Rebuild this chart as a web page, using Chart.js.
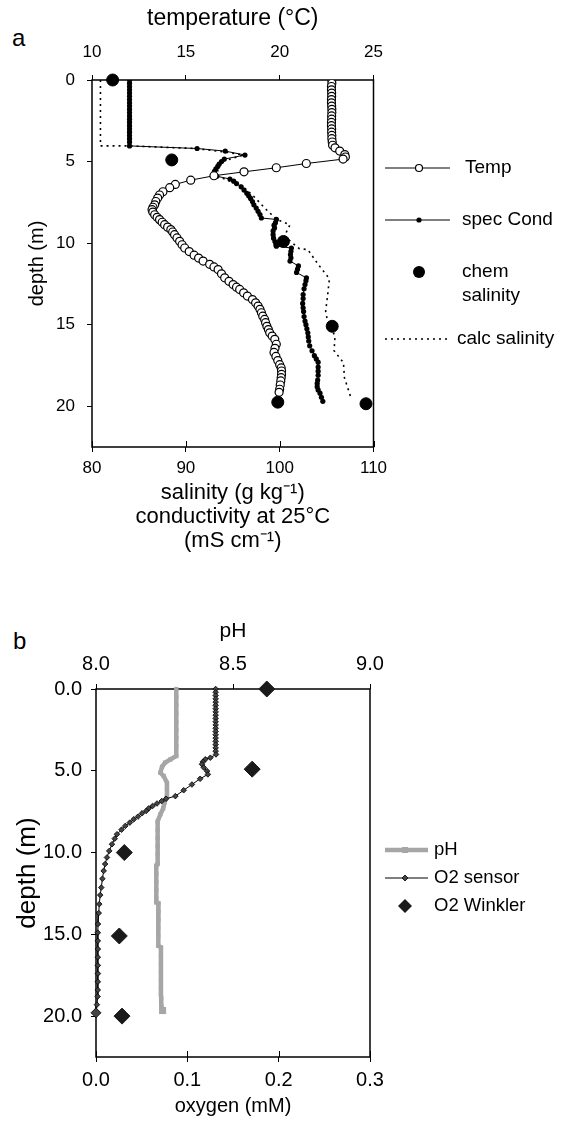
<!DOCTYPE html>
<html><head><meta charset="utf-8">
<script src="https://cdn.jsdelivr.net/npm/chart.js@4/dist/chart.umd.min.js"></script>
<style>
html,body{margin:0;padding:0;background:#fff;}
body{width:562px;height:1128px;position:relative;overflow:hidden;font-family:"Liberation Sans",Arial,sans-serif;color:#000;}
canvas{position:absolute;left:0;}
#ca{top:0;}
#cb{top:585px;}
.lbl{position:absolute;font-size:24px;line-height:24px;}
</style></head><body>
<div class="lbl" style="left:12px;top:26px">a</div>
<div class="lbl" style="left:13px;top:629px">b</div>
<canvas id="ca" width="562" height="560"></canvas>
<canvas id="cb" width="562" height="543"></canvas>
<script>
// ---------- Panel a data ----------
const tempDepth = [0,0.2,0.4,0.6,0.8,1.0,1.2,1.4,1.6,1.8,2.0,2.2,2.4,2.6,2.8,3.0,3.2,3.4,3.6,3.8,4.0,
  4.16,4.36,4.57,4.72,4.85,5.12,5.38,5.63,5.87,6.14,
  6.4,6.6,6.85,7.05,7.24,7.45,7.65,7.8,7.95,8.1,
  8.26,8.42,8.56,8.72,8.87,9.02,9.17,9.32,9.48,9.68,
  9.89,10.1,10.3,10.52,10.74,10.92,11.1,11.3,11.46,11.62,
  11.88,12.13,12.34,12.54,12.7,12.84,13.05,13.25,13.46,13.66,
  13.86,14.06,14.27,14.48,14.68,14.88,15.1,15.3,15.5,15.7,
  15.9,16.2,16.45,16.7,16.95,17.2,17.45,17.65,17.84,18.05,
  18.25,18.45,18.7,18.96,19.15];
const tempValue = [22.78,22.78,22.76,22.76,22.77,22.77,22.76,22.76,22.77,22.78,22.78,22.77,22.77,22.76,22.76,22.77,22.77,22.78,22.78,22.8,22.82,
  22.95,23.2,23.47,23.5,23.38,21.42,19.82,18.1,16.5,15.26,
  14.44,14.14,13.78,13.6,13.5,13.4,13.34,13.25,13.2,13.24,
  13.34,13.47,13.6,13.74,13.87,14.03,14.2,14.3,14.4,14.53,
  14.67,14.8,14.94,15.18,15.44,15.68,15.92,16.27,16.5,16.72,
  16.9,17.07,17.3,17.52,17.7,17.87,18.08,18.28,18.55,18.72,
  18.85,18.95,19.03,19.1,19.2,19.25,19.32,19.4,19.47,19.6,
  19.74,19.82,19.75,19.7,19.8,19.9,20.0,20.08,20.1,20.1,
  20.08,20.06,20.03,20.0,19.97];

const condDepth = [0,0.2,0.4,0.6,0.8,1.0,1.2,1.4,1.6,1.8,2.0,2.2,2.4,2.6,2.8,3.0,3.2,3.4,3.6,3.8,4.04,
  4.2,4.36,4.6,4.85,5.0,5.15,5.3,5.45,5.6,5.75,
  5.9,6.07,6.2,6.35,6.55,6.75,6.95,7.1,7.26,7.45,
  7.65,7.85,8.05,8.25,8.46,8.55,8.75,8.9,9.07,9.25,
  9.48,9.7,9.9,10.1,10.19,10.3,10.5,10.7,10.9,11.1,
  11.4,11.6,11.8,12.13,12.3,12.54,12.8,13.15,13.4,13.7,
  13.97,14.2,14.5,14.78,15.0,15.25,15.5,15.75,16.0,16.3,
  16.6,16.9,17.1,17.3,17.6,17.85,18.1,18.4,18.6,18.8,
  19.0,19.2,19.45,19.7];
const condValue = [84.0,84.0,84.0,84.0,84.0,84.0,84.0,84.0,84.0,84.0,84.0,84.0,84.0,84.0,84.0,84.0,84.0,84.0,84.0,84.0,84.0,
  91.2,94.2,96.3,94.1,93.8,93.55,93.4,93.2,93.05,92.95,
  93.3,94.7,95.1,95.4,95.9,96.2,96.5,96.7,96.9,97.1,
  97.25,97.5,97.7,97.9,98.05,99.65,99.55,99.4,99.45,99.3,
  99.3,99.35,99.5,99.6,99.65,101.25,101.2,101.15,101.2,101.1,
  102.0,101.9,101.8,102.85,102.8,102.7,102.6,102.5,102.5,102.45,
  102.5,102.55,102.6,102.7,102.8,102.9,103.0,103.05,103.1,103.2,
  103.45,103.7,103.9,104.1,104.1,104.1,104.1,104.05,104.0,104.0,
  104.1,104.3,104.45,104.6];

const chemDepth = [0, 4.9, 9.9, 15.1, 19.75, 19.85];
const chemSalinity = [82.2, 88.5, 100.4, 105.6, 99.8, 109.2];

const calcDepth = [0,4.04,4.04,4.2,4.4,4.6,5.0,5.5,5.9,6.5,7.0,7.35,7.85,8.56,8.87,9.58,10.34,10.4,11.3,12.19,13.25,14.17,14.78,15.7,16.6,17.33,18.25,19.57];
const calcSalinity = [80.9,80.9,84.0,91.0,94.0,96.1,93.9,93.4,93.4,96.0,97.0,97.6,98.4,99.7,101.1,100.5,102.1,103.0,104.1,105.3,105.1,104.9,105.1,105.9,105.8,106.8,106.9,107.65];

const depthTicksA = [0,5,10,15,20];
const tempTicks = [10,15,20,25];
const salTicks = [80,90,100,110];

// ---------- Panel b data ----------
const phDepth = [0,0.5,1.0,1.5,2.0,2.5,3.0,3.5,
  4.1,4.31,4.5,4.76,5.12,5.32,5.73,6.1,6.55,6.95,
  7.3,7.66,8.1,8.6,9.1,9.6,10.1,10.7,10.8,11.3,
  11.8,12.3,12.8,13.05,13.1,13.6,14.1,14.6,15.1,15.7,
  15.8,16.3,16.8,17.3,17.8,18.3,18.7,18.9,19.3,19.66];
const phValue = [8.293,8.293,8.293,8.293,8.293,8.293,8.293,8.293,
  8.293,8.271,8.252,8.241,8.235,8.247,8.259,8.259,8.259,8.25,
  8.245,8.235,8.225,8.225,8.225,8.225,8.225,8.225,8.22,8.22,
  8.22,8.22,8.22,8.22,8.228,8.228,8.228,8.227,8.227,8.227,
  8.237,8.237,8.237,8.237,8.237,8.237,8.237,8.238,8.238,8.243];

const o2Depth = [0,0.2,0.4,0.6,0.8,1.0,1.2,1.4,1.6,1.8,2.0,2.2,2.4,2.6,2.8,3.0,3.2,3.4,3.6,3.8,4.0,
  4.2,4.3,4.45,4.6,4.8,5.02,5.22,5.49,5.84,6.19,
  6.55,6.71,6.85,7.0,7.15,7.3,7.45,7.6,7.8,7.97,
  8.17,8.37,8.6,8.88,9.15,9.49,9.9,10.3,10.7,11.12,
  11.6,12.14,12.6,13.15,13.7,14.37,14.9,15.4,15.9,16.4,
  16.9,17.4,17.9,18.4,18.8,19.3,19.8];
const o2Sensor = [0.131,0.131,0.131,0.131,0.131,0.131,0.131,0.131,0.131,0.131,0.131,0.131,0.131,0.131,0.131,0.131,0.131,0.131,0.131,0.131,0.1314,
  0.1252,0.1197,0.117,0.116,0.118,0.1216,0.1225,0.114,0.105,0.096,
  0.0869,0.0767,0.072,0.0668,0.062,0.0577,0.055,0.0504,0.046,0.0413,
  0.037,0.0321,0.028,0.023,0.0205,0.0175,0.0145,0.012,0.01,0.0084,
  0.007,0.0058,0.0046,0.0036,0.003,0.0022,0.002,0.002,0.0021,0.002,
  0.002,0.0021,0.002,0.002,0.0018,0.001,0.0];

const winklerDepth = [0, 4.9, 10.0, 15.1, 20.0];
const winklerO2 = [0.187, 0.171, 0.031, 0.0255, 0.0285];

const depthTicksB = [0,5,10,15,20];
const phTicks = [8.0,8.5,9.0];
const oxyTicks = [0,0.1,0.2,0.3];

// ---------- helpers ----------
const FONT = "'Liberation Sans', Arial, sans-serif";
Chart.defaults.font.family = FONT;
Chart.defaults.color = '#000';

function pts(xs, ys) { const n = Math.min(xs.length, ys.length); const o = []; for (let i = 0; i < n; i++) o.push({x: xs[i], y: ys[i]}); return o; }

function axis(o) {
  const a = {
    type: 'linear', position: o.position, min: o.min, max: o.max, reverse: !!o.reverse,
    afterBuildTicks: s => { s.ticks = o.ticks.map(v => ({value: v})); },
    ticks: { font: {size: o.tickSize}, color: '#000', padding: o.tickPad, callback: o.fmt },
    grid: { display: true, drawOnChartArea: false, drawTicks: true, tickLength: 5, color: '#000', lineWidth: 1 },
    border: { display: false },
    title: { display: true, text: o.title, color: '#000', font: {size: o.titleSize, lineHeight: o.titleLH || 1.2}, padding: o.titlePad },
    afterFit: s => { if (o.position === 'left') s.width = o.fit; else s.height = o.fit; }
  };
  if (o.axisId) a.axis = o.axisId;
  return a;
}

const boxPlugin = {
  id: 'box',
  beforeDatasetsDraw(chart) {
    const {ctx, chartArea: c} = chart;
    ctx.save(); ctx.strokeStyle = '#000'; ctx.lineWidth = 1.5;
    ctx.strokeRect(c.left, c.top, c.right - c.left, c.bottom - c.top);
    // inner tick marks on the bottom axis (the reference's ticks cross the axis line)
    const sx = chart.scales.x; ctx.lineWidth = 1;
    sx.ticks.forEach(t => {
      const px = Math.round(sx.getPixelForValue(t.value)) + 0.5;
      ctx.beginPath(); ctx.moveTo(px, c.bottom); ctx.lineTo(px, c.bottom - 6); ctx.stroke();
    });
    ctx.restore();
  }
};

function legendPlugin(items) {
  return {
    id: 'customLegend',
    afterDraw(chart) {
      const ctx = chart.ctx;
      ctx.save();
      items.forEach(it => it(ctx));
      ctx.restore();
    }
  };
}
function txt(ctx, s, x, y, size) {
  ctx.fillStyle = '#000'; ctx.font = size + 'px ' + FONT; ctx.textBaseline = 'middle'; ctx.textAlign = 'left';
  ctx.fillText(s, x, y);
}
function hline(ctx, x1, x2, y, w, col, dash) {
  ctx.beginPath(); ctx.setLineDash(dash || []); ctx.strokeStyle = col; ctx.lineWidth = w;
  ctx.moveTo(x1, y); ctx.lineTo(x2, y); ctx.stroke(); ctx.setLineDash([]);
}

// ---------- Panel a ----------
new Chart(document.getElementById('ca'), {
  type: 'scatter',
  data: { datasets: [
    { label: 'chem salinity', data: pts(chemSalinity, chemDepth), xAxisID: 'x', yAxisID: 'y',
      pointRadius: 6, pointBackgroundColor: '#000', pointBorderColor: '#000', showLine: false, clip: false },
    { label: 'Temp', data: pts(tempValue, tempDepth), xAxisID: 'x2', yAxisID: 'y', showLine: true,
      borderColor: '#000', borderWidth: 1, pointRadius: 4, pointBackgroundColor: '#fff', pointBorderColor: '#000', pointBorderWidth: 1.2, tension: 0 },
    { label: 'spec Cond', data: pts(condValue, condDepth), xAxisID: 'x', yAxisID: 'y', showLine: true,
      borderColor: '#000', borderWidth: 1, pointRadius: 2.6, pointBackgroundColor: '#000', pointBorderColor: '#000', pointBorderWidth: 0, tension: 0 },
    { label: 'calc salinity', data: pts(calcSalinity, calcDepth), xAxisID: 'x', yAxisID: 'y', showLine: true,
      borderColor: '#000', borderWidth: 1.6, borderDash: [2, 4], pointRadius: 0, tension: 0 }
  ]},
  options: {
    responsive: false, animation: false, devicePixelRatio: 1,
    layout: { padding: { left: 0, top: 0, bottom: 0, right: 188.5 } },
    plugins: { legend: { display: false }, tooltip: { enabled: false } },
    scales: {
      x: axis({position: 'bottom', min: 80, max: 110, ticks: salTicks, tickSize: 17, tickPad: 6,
        title: ['salinity (g kg\u207B\u00B9)', 'conductivity at 25\u00B0C', '(mS cm\u207B\u00B9)'], titleSize: 22, titleLH: 1.1,
        titlePad: {top: 0, bottom: 7}, fit: 113}),
      x2: axis({position: 'top', axisId: 'x', min: 10, max: 25, ticks: tempTicks, tickSize: 17, tickPad: 12,
        title: 'temperature (\u00B0C)', titleSize: 23, titlePad: {top: 5, bottom: 0}, fit: 80}),
      y: axis({position: 'left', min: 0, max: 22.5, reverse: true, ticks: depthTicksA, tickSize: 17, tickPad: 12,
        title: 'depth (m)', titleSize: 20, titlePad: {top: 25, bottom: 0}, fit: 92})
    }
  },
  plugins: [boxPlugin, legendPlugin([
    ctx => { hline(ctx, 385, 450, 168, 1, '#000'); ctx.beginPath(); ctx.arc(419, 168, 3.5, 0, Math.PI*2); ctx.fillStyle='#fff'; ctx.fill(); ctx.lineWidth=1.2; ctx.strokeStyle='#000'; ctx.stroke(); txt(ctx, 'Temp', 465, 168, 19); },
    ctx => { hline(ctx, 385, 450, 220, 1, '#000'); ctx.beginPath(); ctx.arc(419, 220, 2.6, 0, Math.PI*2); ctx.fillStyle='#000'; ctx.fill(); txt(ctx, 'spec Cond', 462, 220, 19); },
    ctx => { ctx.beginPath(); ctx.arc(419, 272, 6, 0, Math.PI*2); ctx.fillStyle='#000'; ctx.fill(); txt(ctx, 'chem', 462, 272, 19); txt(ctx, 'salinity', 462, 296, 19); },
    ctx => { hline(ctx, 385, 450, 339, 1.6, '#000', [2, 4]); txt(ctx, 'calc salinity', 457, 339, 19); }
  ])]
});

// ---------- Panel b ----------
const oxyFmt = v => Number(v).toFixed(1);
new Chart(document.getElementById('cb'), {
  type: 'scatter',
  data: { datasets: [
    { label: 'O2 Winkler', data: pts(winklerO2, winklerDepth), xAxisID: 'x', yAxisID: 'y',
      pointStyle: 'rectRot', pointRadius: 8, pointBackgroundColor: '#1a1a1a', pointBorderColor: '#1a1a1a', showLine: false, clip: false },
    { label: 'O2 sensor', data: pts(o2Sensor, o2Depth), xAxisID: 'x', yAxisID: 'y', showLine: true,
      borderColor: '#000', borderWidth: 1, pointStyle: 'rectRot',
      pointRadius: c => c.dataIndex === o2Depth.length - 1 ? 5 : 2.8,
      pointBackgroundColor: '#444', pointBorderColor: '#000', pointBorderWidth: 0.8, tension: 0, clip: false },
    { label: 'pH', data: pts(phValue, phDepth), xAxisID: 'x2', yAxisID: 'y', showLine: true,
      borderColor: '#a6a6a6', borderWidth: 4.5, pointStyle: 'rect',
      pointRadius: c => c.dataIndex === phDepth.length - 1 ? 5 : 3,
      pointBackgroundColor: '#a6a6a6', pointBorderColor: '#a6a6a6', pointBorderWidth: 0, tension: 0, clip: false }
  ]},
  options: {
    responsive: false, animation: false, devicePixelRatio: 1,
    layout: { padding: { left: 0, top: 0, bottom: 0, right: 192 } },
    plugins: { legend: { display: false }, tooltip: { enabled: false } },
    scales: {
      x: axis({position: 'bottom', min: 0, max: 0.3, ticks: oxyTicks, fmt: oxyFmt, tickSize: 20, tickPad: 6,
        title: 'oxygen (mM)', titleSize: 20, titlePad: {top: 0, bottom: 10}, fit: 71}),
      x2: axis({position: 'top', axisId: 'x', min: 8, max: 9, ticks: phTicks, fmt: oxyFmt, tickSize: 20, tickPad: 8,
        title: 'pH', titleSize: 21, titlePad: {top: 34, bottom: 0}, fit: 104}),
      y: axis({position: 'left', min: 0, max: 22.5, reverse: true, ticks: depthTicksB, fmt: oxyFmt, tickSize: 20, tickPad: 9,
        title: 'depth (m)', titleSize: 26, titlePad: {top: 12, bottom: 0}, fit: 96})
    }
  },
  plugins: [boxPlugin, legendPlugin([
    ctx => { hline(ctx, 385, 428, 265, 4.5, '#a6a6a6'); ctx.fillStyle='#a6a6a6'; ctx.fillRect(402, 262, 6, 6); txt(ctx, 'pH', 434, 265, 18.5); },
    ctx => { hline(ctx, 385, 428, 293, 1, '#000'); ctx.beginPath(); ctx.moveTo(402,293); ctx.lineTo(405,290); ctx.lineTo(408,293); ctx.lineTo(405,296); ctx.closePath(); ctx.fillStyle='#444'; ctx.fill(); ctx.lineWidth=0.8; ctx.strokeStyle='#000'; ctx.stroke(); txt(ctx, 'O2 sensor', 434, 293, 18.5); },
    ctx => { ctx.beginPath(); ctx.moveTo(398,321); ctx.lineTo(405,314); ctx.lineTo(412,321); ctx.lineTo(405,328); ctx.closePath(); ctx.fillStyle='#1a1a1a'; ctx.fill(); txt(ctx, 'O2 Winkler', 434, 321, 18.5); }
  ])]
});
</script>
</body></html>
